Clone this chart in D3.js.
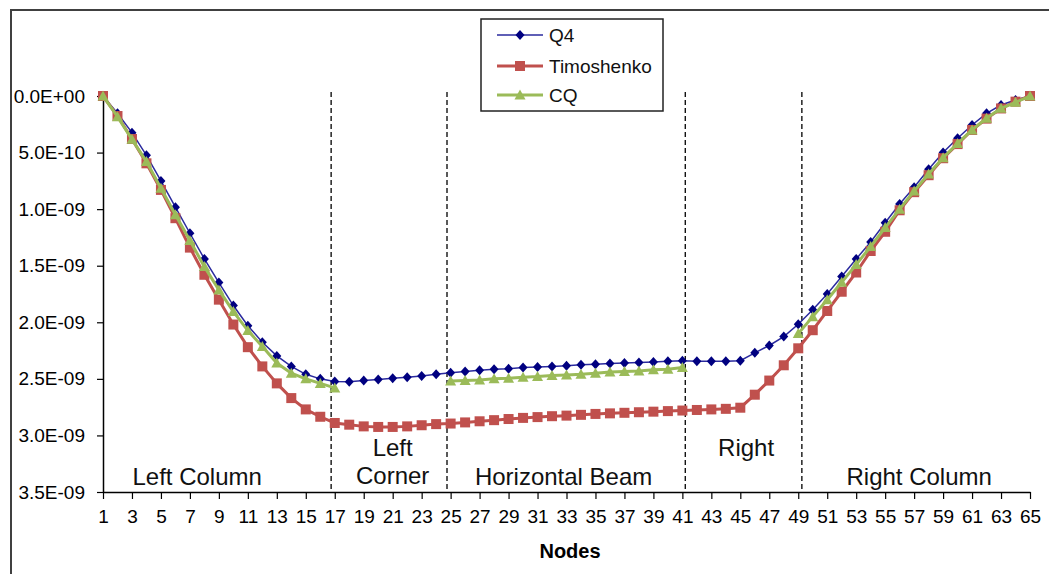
<!DOCTYPE html>
<html>
<head>
<meta charset="utf-8">
<script src="https://cdn.jsdelivr.net/npm/d3@7"></script>
<style>
  body { margin: 0; background: #fff; }
  svg { display: block; font-family: "Liberation Sans", Arial, sans-serif; }
</style>
</head>
<body>
<svg id="chart" width="1049" height="574"></svg>
<script>
// node numbers 1..65, values are displacements in units of 1E-09
var nodes = d3.range(1, 66);

var q4 = [0, 0.153, 0.324, 0.524, 0.751, 0.983, 1.213, 1.44, 1.649, 1.852, 2.03, 2.176, 2.297, 2.39, 2.46, 2.50, 2.524,
  2.525, 2.515, 2.505, 2.495, 2.485, 2.475, 2.46, 2.445, 2.435, 2.425, 2.415, 2.41, 2.40, 2.395, 2.39, 2.385,
  2.375, 2.37, 2.365, 2.36, 2.355, 2.35, 2.345, 2.34,
  2.345, 2.345, 2.345, 2.34, 2.27, 2.205, 2.126, 2.017, 1.89, 1.75, 1.596, 1.44, 1.29, 1.12, 0.954, 0.807,
  0.648, 0.50, 0.374, 0.256, 0.153, 0.08, 0.035, 0];

var timoshenko = [0, 0.177, 0.38, 0.595, 0.83, 1.08, 1.34, 1.58, 1.80, 2.02, 2.22, 2.39, 2.54, 2.67, 2.77, 2.835, 2.89,
  2.905, 2.92, 2.925, 2.925, 2.92, 2.91, 2.90, 2.895, 2.885, 2.875, 2.865, 2.855, 2.845, 2.838, 2.83, 2.825,
  2.818, 2.81, 2.805, 2.80, 2.795, 2.79, 2.785, 2.78,
  2.775, 2.77, 2.765, 2.755, 2.64, 2.515, 2.38, 2.23, 2.07, 1.90, 1.73, 1.56, 1.37, 1.20, 1.01, 0.85,
  0.70, 0.55, 0.425, 0.30, 0.20, 0.11, 0.05, 0];

var cq = [0, 0.183, 0.383, 0.58, 0.815, 1.05, 1.278, 1.508, 1.714, 1.905, 2.073, 2.215, 2.36, 2.45, 2.50, 2.54, 2.58,
  null, null, null, null, null, null, null,
  2.52, 2.515, 2.51, 2.50, 2.495, 2.485, 2.48, 2.47, 2.465, 2.46, 2.45, 2.44, 2.435, 2.43, 2.42, 2.415, 2.40,
  null, null, null, null, null, null, null,
  2.10, 1.95, 1.80, 1.646, 1.49, 1.33, 1.163, 1.0, 0.84, 0.69, 0.545, 0.42, 0.30, 0.197, 0.109, 0.056, 0];

var yTicks = [0, 0.5, 1.0, 1.5, 2.0, 2.5, 3.0, 3.5];
var xTicks = d3.range(1, 66, 2);

// region boundaries (in node units) and labels
var dividers = [16.75, 24.75, 41.2, 49.25];
var regions = [
  {lines: ["Left Column"], at: 7.5, row: 1},
  {lines: ["Left", "Corner"], at: 21, row: 0},
  {lines: ["Horizontal Beam"], at: 32.8, row: 1},
  {lines: ["Right"], at: 45.4, row: 0},
  {lines: ["Right Column"], at: 57.35, row: 1}
];

var series = [
  {name: "Q4", values: q4, color: "#000080", line: "#2a2a9e", width: 1.5, shape: "diamond"},
  {name: "Timoshenko", values: timoshenko, color: "#c0504d", line: "#c0504d", width: 3, shape: "square"},
  {name: "CQ", values: cq, color: "#9bbb59", line: "#9bbb59", width: 3, shape: "triangle"}
];

var svg = d3.select("svg#chart");

// outer chart frame (right/bottom edges fall outside the picture)
svg.append("rect")
  .attr("x", 11).attr("y", 10)
  .attr("width", 1100).attr("height", 600)
  .attr("fill", "none")
  .attr("stroke", "#404040")
  .attr("stroke-width", 2);

var x = d3.scaleLinear().domain([1, 65]).range([103, 1030]);
var y = d3.scaleLinear().domain([0, 3.5]).range([96, 492]);

function sci(v) {
  var s = (v * 1e-9).toExponential(1).toUpperCase();
  var parts = s.split("E");
  var exp = parts[1];
  var sign = exp[0] === "-" ? "-" : "+";
  var digits = exp.replace(/[+-]/, "");
  if (digits.length < 2) digits = "0" + digits;
  return parts[0] + "E" + sign + digits;
}

// dashed region dividers
svg.append("g").selectAll("line")
  .data(dividers)
  .enter().append("line")
  .attr("x1", d => x(d)).attr("x2", d => x(d))
  .attr("y1", 92).attr("y2", y(3.5))
  .attr("stroke", "#000")
  .attr("stroke-width", 1.3)
  .attr("stroke-dasharray", "5,3");

// axes
var xAxis = svg.append("g")
  .attr("transform", "translate(0," + y(3.5) + ")")
  .call(d3.axisBottom(x).tickValues(xTicks).tickSize(7).tickSizeOuter(0).tickPadding(11).tickFormat(d3.format("d")));

var yAxis = svg.append("g")
  .attr("transform", "translate(" + x(1) + ",0)")
  .call(d3.axisLeft(y).tickValues(yTicks).tickSize(6).tickSizeOuter(0).tickPadding(12).tickFormat(sci));

[xAxis, yAxis].forEach(function(ax) {
  ax.selectAll("path.domain").attr("stroke", "#000").attr("stroke-width", 1.5);
  ax.selectAll(".tick line").attr("stroke", "#000").attr("stroke-width", 1.2);
  ax.selectAll("text")
    .attr("fill", "#000")
    .style("font-size", "19px")
    .style("font-family", "'Liberation Sans', Arial, sans-serif");
});

svg.append("text")
  .attr("x", 570).attr("y", 558)
  .attr("text-anchor", "middle")
  .style("font-size", "20px")
  .style("font-weight", "bold")
  .text("Nodes");

// region labels
regions.forEach(function(r) {
  var base = r.row === 0 ? 456 : 485;
  r.lines.forEach(function(t, i) {
    svg.append("text")
      .attr("x", x(r.at))
      .attr("y", base + i * 28)
      .attr("text-anchor", "middle")
      .style("font-size", "24px")
      .attr("fill", "#111")
      .text(t);
  });
});

function marker(sel, shape, color) {
  if (shape === "diamond") {
    sel.append("path").attr("d", "M0,-5L4.5,0L0,5L-4.5,0Z").attr("fill", color);
  } else if (shape === "square") {
    sel.append("rect").attr("x", -5).attr("y", -5).attr("width", 10).attr("height", 10).attr("fill", color);
  } else {
    sel.append("path").attr("d", "M0,-5.5L5.5,4.5L-5.5,4.5Z").attr("fill", color);
  }
}

var plot = svg.append("g");

series.forEach(function(s) {
  var pts = nodes.map((n, i) => ({n: n, v: s.values[i]}));
  var line = d3.line()
    .defined(d => d.v !== null)
    .x(d => x(d.n))
    .y(d => y(d.v));

  plot.append("path")
    .datum(pts)
    .attr("d", line)
    .attr("fill", "none")
    .attr("stroke", s.line)
    .attr("stroke-width", s.width);

  plot.append("g").selectAll("g")
    .data(pts.filter(d => d.v !== null))
    .enter().append("g")
    .attr("transform", d => "translate(" + x(d.n) + "," + y(d.v) + ")")
    .each(function() { marker(d3.select(this), s.shape, s.color); });
});

// legend
var legend = svg.append("g");
legend.append("rect")
  .attr("x", 481).attr("y", 19)
  .attr("width", 182).attr("height", 92)
  .attr("fill", "#fff")
  .attr("stroke", "#222")
  .attr("stroke-width", 1.5);

var rowsY = [35, 66, 95];
series.forEach(function(s, i) {
  var g = legend.append("g").attr("transform", "translate(0," + rowsY[i] + ")");
  g.append("line")
    .attr("x1", 497).attr("x2", 543)
    .attr("y1", 0).attr("y2", 0)
    .attr("stroke", s.line)
    .attr("stroke-width", s.width);
  var m = g.append("g").attr("transform", "translate(520,0)");
  marker(m, s.shape, s.color);
  g.append("text")
    .attr("x", 549).attr("y", 0)
    .attr("dy", "0.35em")
    .style("font-size", "19px")
    .attr("fill", "#111")
    .text(s.name);
});
</script>
</body>
</html>
